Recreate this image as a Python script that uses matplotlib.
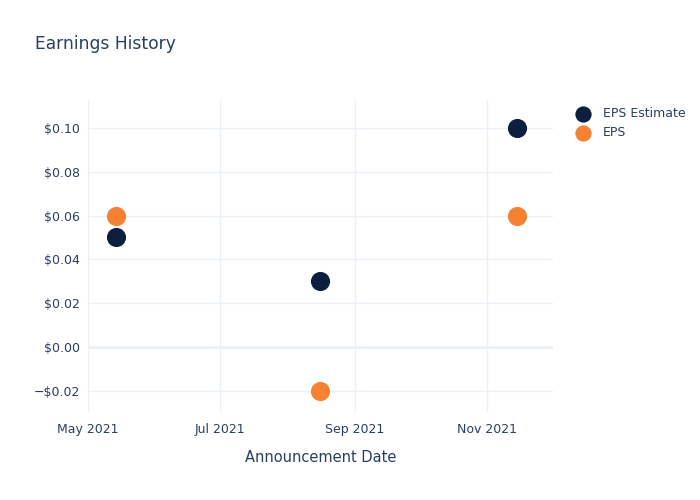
import matplotlib
matplotlib.use("Agg")
import matplotlib.pyplot as plt
import datetime as dt

dates = ["2021-05-14", "2021-08-16", "2021-11-15"]
eps_estimate = [0.05, 0.03, 0.10]
eps_actual = [0.06, -0.02, 0.06]
x_ticks = ["2021-05-01", "2021-07-01", "2021-09-01", "2021-11-01"]
y_ticks = [-0.02, 0.0, 0.02, 0.04, 0.06, 0.08, 0.10]

TEXT = "#2a3f5f"
GRID = "#ebf0f8"
NAVY = "#0c1f3f"
ORANGE = "#f58232"

plt.rcParams["font.family"] = ["DejaVu Sans"]

fig = plt.figure(figsize=(7, 5), dpi=100)
ax = fig.add_axes([88/700, 1-412/500, (553-88)/700, (412-100)/500])

xd = [dt.datetime.strptime(d, "%Y-%m-%d") for d in dates]
ax.scatter(xd, eps_estimate, s=190, color=NAVY, zorder=3, label="EPS Estimate", linewidths=0)
ax.scatter(xd, eps_actual, s=190, color=ORANGE, zorder=3, label="EPS", linewidths=0)

ax.set_xlim(dt.datetime(2021, 5, 1), dt.datetime(2021, 12, 1, 12))
ax.set_ylim(-0.0297, 0.1128)

xt = [dt.datetime.strptime(d, "%Y-%m-%d") for d in x_ticks]
ax.set_xticks(xt)
ax.set_xticklabels([d.strftime("%b %Y") for d in xt])
ax.set_yticks(y_ticks)
ax.set_yticklabels([("\u2212$%.2f" % abs(v)) if v < 0 else ("$%.2f" % v) for v in y_ticks])

ax.grid(True, color=GRID, linewidth=1, zorder=0)
ax.axhline(0, color=GRID, linewidth=2, zorder=1)
for s in ax.spines.values():
    s.set_visible(False)
ax.tick_params(axis="both", length=0, colors=TEXT, labelsize=9)
ax.tick_params(axis="x", pad=8)
ax.tick_params(axis="y", pad=6)
ax.set_xlabel("Announcement Date", color=TEXT, fontsize=10.5, labelpad=10)

fig.text(35/700, 1-44/500, "Earnings History", color=TEXT, fontsize=12.3, va="center", ha="left")

leg = ax.legend(loc="upper left", bbox_to_anchor=(1.027, 0.993), frameon=False,
                fontsize=9, labelcolor=TEXT, handletextpad=0.6, borderaxespad=0,
                markerscale=0.85, labelspacing=0.45)

fig.savefig("out.png", dpi=100)
